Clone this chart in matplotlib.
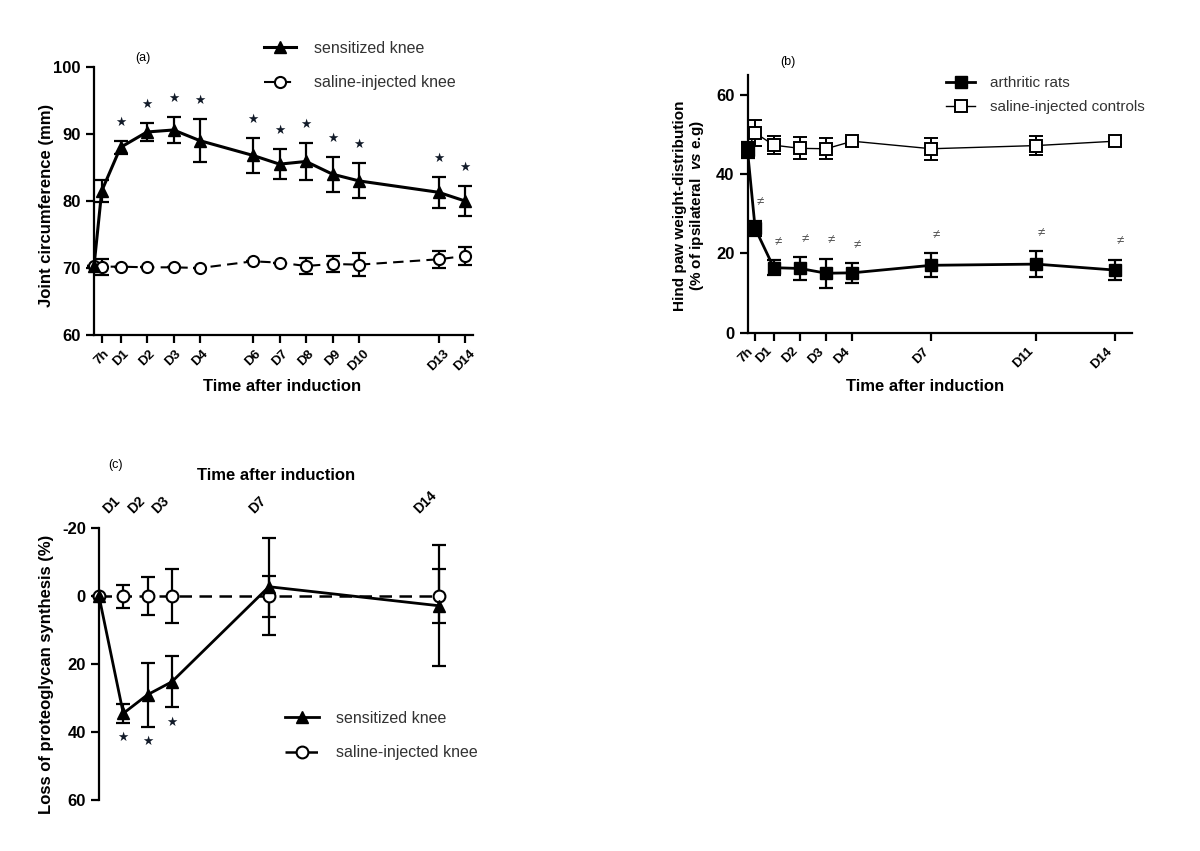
import numpy as np
import matplotlib
matplotlib.use("Agg")
import matplotlib.pyplot as plt

plt.rcParams['font.family'] = ['Liberation Sans', 'DejaVu Sans']
plt.rcParams['axes.unicode_minus'] = False
plt.rcParams['mathtext.fontset'] = 'custom'
plt.rcParams['mathtext.it'] = 'Liberation Sans:italic:bold'
plt.rcParams['mathtext.rm'] = 'Liberation Sans:bold'

# ---------------- data: panel (a) ----------------
days_a = [0, 7 / 24, 1, 2, 3, 4, 6, 7, 8, 9, 10, 13, 14]
tick_days_a = [7 / 24, 1, 2, 3, 4, 6, 7, 8, 9, 10, 13, 14]
tick_labels_a = ['7h', 'D1', 'D2', 'D3', 'D4', 'D6', 'D7', 'D8', 'D9', 'D10', 'D13', 'D14']
sens_a = [70.3, 81.5, 88.0, 90.3, 90.6, 89.0, 86.8, 85.5, 85.9, 84.0, 83.0, 81.3, 80.0]
sens_a_err = [0.0, 1.6, 1.0, 1.4, 2.0, 3.2, 2.6, 2.2, 2.7, 2.6, 2.6, 2.3, 2.3]
sal_a = [70.3, 70.2, 70.2, 70.1, 70.1, 70.0, 71.0, 70.8, 70.3, 70.6, 70.5, 71.3, 71.8]
sal_a_err = [0.0, 1.2, 0.0, 0.0, 0.0, 0.0, 0.0, 0.0, 1.2, 1.2, 1.7, 1.3, 1.3]
star_a = [False, False, True, True, True, True, True, True, True, True, True, True, True]

# ---------------- data: panel (b) ----------------
days_b = [0, 7 / 24, 1, 2, 3, 4, 7, 11, 14]
tick_days_b = [7 / 24, 1, 2, 3, 4, 7, 11, 14]
tick_labels_b = ['7h', 'D1', 'D2', 'D3', 'D4', 'D7', 'D11', 'D14']
arth_b = [46.0, 26.3, 16.4, 16.2, 15.0, 15.1, 17.0, 17.3, 15.8]
arth_b_err = [2.0, 2.0, 1.9, 2.8, 3.7, 2.5, 3.0, 3.2, 2.6]
sal_b = [46.0, 50.4, 47.3, 46.5, 46.4, 48.3, 46.4, 47.2, 48.3]
sal_b_err = [1.5, 3.3, 2.3, 2.8, 2.6, 0.8, 2.8, 2.4, 0.8]
neq_b = [False, True, True, True, True, True, True, True, True]

# ---------------- data: panel (c) ----------------
days_c = [0, 1, 2, 3, 7, 14]
tick_days_c = [1, 2, 3, 7, 14]
tick_labels_c = ['D1', 'D2', 'D3', 'D7', 'D14']
sens_c = [0.0, 34.5, 29.0, 25.2, -2.8, 2.8]
sens_c_err = [0.0, 2.7, 9.4, 7.5, 14.2, 17.8]
sal_c = [0.0, 0.0, 0.0, 0.0, 0.0, 0.0]
sal_c_err = [0.0, 3.4, 5.6, 7.9, 6.0, 7.9]
star_c = [False, True, True, True, False, False]

W, H = 1200, 851
fig = plt.figure(figsize=(12, 8.51), dpi=100)


def px_axes(l, r, b, t):
    return fig.add_axes([l / W, 1 - b / H, (r - l) / W, (b - t) / H])


def fpos(x, y):
    return (x / W, 1 - y / H)


SPW = 1.6
LABFS = 12
TICKFS = 12
SMALLFS = 9.5
LEGFS = 11.5


def style_axes(ax):
    for s in ['top', 'right']:
        ax.spines[s].set_visible(False)
    for s in ['left', 'bottom']:
        ax.spines[s].set_linewidth(SPW)
    ax.tick_params(axis='both', width=SPW, length=6, direction='out', colors='black')
    ax.tick_params(axis='y', labelsize=TICKFS)


# ======================= panel (a) =======================
ax = px_axes(94, 473, 335, 67)
ax.set_xlim(0, 14.3)
ax.set_ylim(60, 100)
style_axes(ax)
ax.set_yticks([60, 70, 80, 90, 100])
ax.set_yticklabels(['60', '70', '80', '90', '100'], fontweight='bold', fontsize=TICKFS)
ax.set_xticks(tick_days_a)
ax.set_xticklabels(tick_labels_a, rotation=45, ha='center', fontsize=SMALLFS, fontweight='bold')
ax.tick_params(axis='x', pad=3)

ax.errorbar(days_a, sens_a, yerr=sens_a_err, fmt='none', ecolor='black',
            elinewidth=1.6, capsize=4.8, capthick=1.6, zorder=3, clip_on=False)
ax.errorbar(days_a, sal_a, yerr=sal_a_err, fmt='none', ecolor='black',
            elinewidth=1.6, capsize=4.8, capthick=1.6, zorder=3, clip_on=False)
la1, = ax.plot(days_a, sens_a, '-', marker='^', color='black', lw=2.2, ms=8,
               zorder=5, clip_on=False, label='sensitized knee')
la2, = ax.plot(days_a, sal_a, linestyle=(0, (5, 3)), marker='o', color='black', lw=1.5,
               ms=8, mfc='white', mec='black', mew=1.5, zorder=4, clip_on=False,
               label='saline-injected knee')
for d, v, e, s in zip(days_a, sens_a, sens_a_err, star_a):
    if s:
        ax.annotate('★', xy=(d, v + e), xytext=(0, 13), textcoords='offset points',
                    ha='center', va='center', fontsize=9, color='#111a28')

ax.set_ylabel('Joint circumference (mm)', fontsize=LABFS, fontweight='bold', va='center', ha='center')
ax.yaxis.set_label_coords((46.7 - 94) / 379, (335 - 205.8) / 268)
ax.set_xlabel('Time after induction', fontsize=LABFS, fontweight='bold', va='center', ha='center')
ax.xaxis.set_label_coords((281.7 - 94) / 379, (335 - 386.7) / 268)
fig.text(*fpos(143, 58), '(a)', fontsize=9, ha='center', va='center')
ax.legend(handles=[la1, la2], loc='upper left', bbox_to_anchor=fpos(264, 41),
          bbox_transform=fig.transFigure, frameon=False, fontsize=LEGFS,
          handlelength=2.0, handletextpad=1.1, labelspacing=1.2, borderpad=0,
          borderaxespad=0, labelcolor='#333333')

# ======================= panel (b) =======================
ax = px_axes(747.5, 1131.7, 332.7, 75)
ax.set_xlim(0, 14.64)
ax.set_ylim(0, 65)
style_axes(ax)
ax.set_yticks([0, 20, 40, 60])
ax.set_yticklabels(['0', '20', '40', '60'], fontweight='bold', fontsize=TICKFS)
ax.set_xticks(tick_days_b)
ax.set_xticklabels(tick_labels_b, rotation=45, ha='right', fontsize=SMALLFS, fontweight='bold')
ax.tick_params(axis='x', pad=3)

ax.errorbar(days_b, arth_b, yerr=arth_b_err, fmt='none', ecolor='black',
            elinewidth=1.6, capsize=4.8, capthick=1.6, zorder=3, clip_on=False)
ax.errorbar(days_b, sal_b, yerr=sal_b_err, fmt='none', ecolor='black',
            elinewidth=1.4, capsize=4.8, capthick=1.4, zorder=3, clip_on=False)
lb2, = ax.plot(days_b, sal_b, '-', marker='s', color='black', lw=1.0, ms=8.5,
               mfc='white', mec='black', mew=1.4, zorder=4, clip_on=False,
               label='saline-injected controls')
lb1, = ax.plot(days_b, arth_b, '-', marker='s', color='black', lw=2.0, ms=9,
               zorder=5, clip_on=False, label='arthritic rats')
for d, v, e, s in zip(days_b, arth_b, arth_b_err, neq_b):
    if s:
        ax.annotate('≠', xy=(d, v + e), xytext=(3.5, 13), textcoords='offset points',
                    ha='center', va='center', fontsize=9.5, color='#555555')

ax.set_ylabel('Hind paw weight-distribution\n(% of ipsilateral  $\\it{vs}$ e.g)',
              fontsize=11, fontweight='bold', va='center', ha='center', linespacing=1.05)
ax.yaxis.set_label_coords((689.5 - 747.5) / 384.2, (332.7 - 205.5) / 257.7)
ax.set_xlabel('Time after induction', fontsize=LABFS, fontweight='bold', va='center', ha='center')
ax.xaxis.set_label_coords((925 - 747.5) / 384.2, (332.7 - 386.7) / 257.7)
fig.text(*fpos(788, 62), '(b)', fontsize=9, ha='center', va='center')
ax.legend(handles=[lb1, lb2], loc='upper left', bbox_to_anchor=fpos(946, 76),
          bbox_transform=fig.transFigure, frameon=False, fontsize=11,
          handlelength=1.9, handletextpad=1.0, labelspacing=0.65, borderpad=0,
          borderaxespad=0, labelcolor='#333333')

# ======================= panel (c) =======================
ax = px_axes(99, 451, 800, 528.3)
ax.set_xlim(0, 14.5)
ax.set_ylim(60, -20)
for s in ['top', 'right', 'bottom']:
    ax.spines[s].set_visible(False)
ax.spines['left'].set_linewidth(SPW)
ax.tick_params(axis='y', width=SPW, length=6, labelsize=TICKFS)
ax.set_yticks([-20, 0, 20, 40, 60])
ax.set_yticklabels(['-20', '0', '20', '40', '60'], fontweight='bold', fontsize=TICKFS)
ax.xaxis.tick_top()
ax.xaxis.set_label_position('top')
ax.set_xticks(tick_days_c)
ax.set_xticklabels(tick_labels_c, rotation=45, ha='right', fontsize=SMALLFS + 0.5, fontweight='bold')
ax.tick_params(axis='x', length=0, pad=9)

ax.errorbar(days_c, sal_c, yerr=sal_c_err, fmt='none', ecolor='black',
            elinewidth=1.6, capsize=4.8, capthick=1.6, zorder=3, clip_on=False)
ax.errorbar(days_c, sens_c, yerr=sens_c_err, fmt='none', ecolor='black',
            elinewidth=1.6, capsize=4.8, capthick=1.6, zorder=3, clip_on=False)
lc2, = ax.plot(days_c, sal_c, linestyle=(0, (5, 3)), marker='o', color='black', lw=1.8,
               ms=8.5, mfc='white', mec='black', mew=1.5, zorder=4, clip_on=False,
               label='saline-injected knee')
lc1, = ax.plot(days_c, sens_c, '-', marker='^', color='black', lw=2.0, ms=9,
               zorder=5, clip_on=False, label='sensitized knee')
for d, v, e, s in zip(days_c, sens_c, sens_c_err, star_c):
    if s:
        ax.annotate('★', xy=(d, v + e), xytext=(0, -11), textcoords='offset points',
                    ha='center', va='center', fontsize=9, color='#111a28')

ax.set_ylabel('Loss of proteoglycan synthesis (%)', fontsize=LABFS, fontweight='bold',
              va='center', ha='center')
ax.yaxis.set_label_coords((46.7 - 99) / 352, (800 - 674.5) / 271.7)
ax.set_xlabel('Time after induction', fontsize=LABFS, fontweight='bold', va='center', ha='center')
ax.xaxis.set_label_coords((275.7 - 99) / 352, (800 - 476) / 271.7)
fig.text(*fpos(115, 465), '(c)', fontsize=9, ha='center', va='center')
ax.legend(handles=[lc1, lc2], loc='upper left', bbox_to_anchor=fpos(285, 711),
          bbox_transform=fig.transFigure, frameon=False, fontsize=LEGFS,
          handlelength=2.1, handletextpad=1.1, labelspacing=1.2, borderpad=0,
          borderaxespad=0, labelcolor='#333333')

fig.savefig('out.png', dpi=100, facecolor='white')
